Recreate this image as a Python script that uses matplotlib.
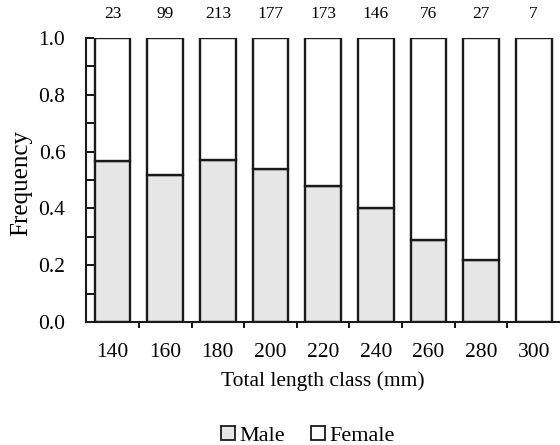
import matplotlib.pyplot as plt
import numpy as np
from matplotlib.patches import Patch
from matplotlib.ticker import MultipleLocator, FixedLocator

plt.rcParams["font.family"] = ["Liberation Serif", "DejaVu Serif"]

classes = ["140", "160", "180", "200", "220", "240", "260", "280", "300"]
counts = [23, 99, 213, 177, 173, 146, 76, 27, 7]
male = [0.568, 0.519, 0.570, 0.538, 0.480, 0.401, 0.289, 0.218, 0.0]
female = [1 - m for m in male]

fig = plt.figure(figsize=(5.6, 4.45), dpi=100)
ax = fig.add_axes([0.154, 0.2764, 0.846, 0.6382])

x = np.arange(len(classes))
ax.bar(x, male, width=0.68, color="#e6e6e6", edgecolor="#1a1a1a", linewidth=1.7)
ax.bar(x, female, bottom=male, width=0.68, color="white", edgecolor="#1a1a1a", linewidth=1.7)

for xi, n in zip(x, counts):
    ax.text(xi, 1.058, str(n), ha="center", va="bottom", fontsize=12.5, clip_on=False)

ax.set_xlim(-0.5, len(classes) - 0.5)
ax.set_ylim(0, 1.0)
ax.set_xticks(x)
ax.set_xticklabels(classes)
ax.xaxis.set_minor_locator(FixedLocator(np.arange(0.5, len(classes) - 1, 1.0)))
ax.tick_params(axis="x", which="major", length=0, pad=15, labelsize=15.5)
ax.tick_params(axis="x", which="minor", length=4, width=1.3, direction="out")

ax.yaxis.set_major_locator(MultipleLocator(0.2))
ax.yaxis.set_minor_locator(MultipleLocator(0.1))
ax.yaxis.set_major_formatter(lambda v, p: f"{v:.1f}")
ax.tick_params(axis="y", which="both", direction="in", length=6, width=1.3, labelsize=15.5, pad=15)

for side in ["top", "right"]:
    ax.spines[side].set_visible(False)
for side in ["left", "bottom"]:
    ax.spines[side].set_linewidth(1.5)
    ax.spines[side].set_color("#1a1a1a")

ax.set_xlabel("Total length class (mm)", fontsize=15.5, labelpad=7)
ax.set_ylabel("Frequency", fontsize=18)
ax.yaxis.set_label_coords(-0.115, 0.49)

handles = [
    Patch(facecolor="#e6e6e6", edgecolor="#1a1a1a", linewidth=1.3, label="Male"),
    Patch(facecolor="white", edgecolor="#1a1a1a", linewidth=1.3, label="Female"),
]
fig.legend(handles=handles, loc="center", bbox_to_anchor=(0.55, 0.02), ncol=2,
           frameon=False, fontsize=16, handlelength=0.6, handleheight=0.6,
           handletextpad=0.2, columnspacing=1.2, borderpad=0)

fig.savefig("out.png", dpi=100)
